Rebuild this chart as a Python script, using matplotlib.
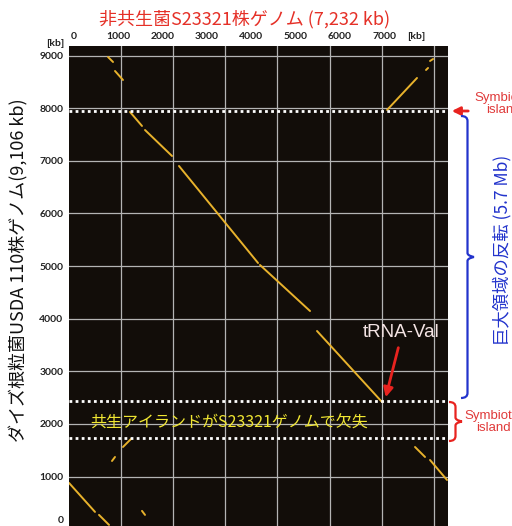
import matplotlib
matplotlib.use('Agg')
import matplotlib.pyplot as plt
from matplotlib.path import Path
from matplotlib.patches import PathPatch

# ---------------- data (kb) ----------------
top_tick_values = [0, 1000, 2000, 3000, 4000, 5000, 6000, 7000]
top_tick_labels = ['0', '1000', '2000', '3000', '4000', '5000', '6000', '7000']
grid_x = [1000, 2000, 3000, 4000, 5000, 6000, 7000]
grid_y = [1000, 2000, 3000, 4000, 5000, 6000, 7000, 8000, 9000]
y_tick_labels = ['1000', '2000', '3000', '4000', '5000', '6000', '7000', '8000', '9000']

# aligned segments (S23321 position x, USDA110 position y), kb
seg_x0 = [749, 883, 1171, 1459, 2111, 3666, 4760, 6104, 6852, 6929, 0, 576, 1036, 825, 1401, 6641, 6929]
seg_x1 = [845, 1036, 1401, 1977, 3628, 4626, 6008, 6679, 6891, 6987, 499, 768, 1190, 883, 1459, 6833, 7255]
seg_y0 = [8975, 8709, 7930, 7587, 6903, 5021, 3766, 7968, 8728, 8899, 878, 270, 1561, 1295, 346, 1561, 1314]
seg_y1 = [8880, 8538, 7664, 7093, 5059, 4146, 2416, 8576, 8766, 8937, 327, 80, 1713, 1371, 270, 1371, 934]

island_boundaries = [7950, 2430, 1740]

# ---------------- figure ----------------
W, H = 512, 526
fig = plt.figure(figsize=(W / 100, H / 100), dpi=100)
L, R, T, B = 69, 448, 46, 526
ax = fig.add_axes([L / W, 0, (R - L) / W, (B - T) / H])
ax.set_facecolor('#120d09')
ax.set_xlim(0, 7274)
ax.set_ylim(59, 9184)
for s in ax.spines.values():
    s.set_visible(False)

for v in grid_x:
    ax.axvline(v, color='#b4b4b4', lw=0.9, zorder=1)
for v in grid_y:
    ax.axhline(v, color='#b4b4b4', lw=0.9, zorder=1)

for x0, x1, y0, y1 in zip(seg_x0, seg_x1, seg_y0, seg_y1):
    ax.plot([x0, x1], [y0, y1], color='#e8b22c', lw=1.4, solid_capstyle='round', zorder=3)

for b in island_boundaries:
    ax.axhline(b, color='white', lw=2.0, ls=(0, (1, 1.2)), zorder=4)

ax.set_xticks([])
ax.set_yticks(grid_y)
ax.set_yticklabels(y_tick_labels, fontfamily='Lato', fontweight='bold', fontsize=7.5, color='#222222')
ax.tick_params(axis='y', length=0, pad=4)
ax.text(-0.015, 173, '0', transform=ax.get_yaxis_transform(), ha='right', va='center',
        fontfamily='Lato', fontweight='bold', fontsize=7.5, color='#222222')

# top axis labels (separate scale as in source image)
ax2 = ax.twiny()
ax2.set_xlim(-113, 8442)
ax2.set_xticks(top_tick_values + [7720])
ax2.set_xticklabels(top_tick_labels + ['[kb]'], fontfamily='Lato', fontweight='bold',
                    fontsize=7.5, color='#222222')
ax2.tick_params(axis='x', length=0, pad=3.5)
for s in ax2.spines.values():
    s.set_visible(False)

fig.text(55 / W, 1 - 43 / H, '[kb]', ha='center', va='center', fontfamily='Lato',
         fontweight='bold', fontsize=7.5, color='#222222')

# in-plot annotations
ax.text(3071, 2017, '共生アイランドがS23321ゲノムで欠失', ha='center', va='center',
        fontfamily='Noto Sans CJK JP', fontsize=11.5, color='#f0e632', zorder=5)
ax.text(6370, 3747, 'tRNA-Val', ha='center', va='center', fontfamily='Liberation Sans',
        fontsize=13.5, color='#f4e4e4', zorder=5)
ax.annotate('', xy=(6065, 2455), xytext=(6334, 3500),
            arrowprops=dict(arrowstyle='-|>', color='#e8231f', lw=2, mutation_scale=14), zorder=5)

# titles
fig.text(245 / W, 1 - 19 / H, '非共生菌S23321株ゲノム (7,232 kb)', ha='center', va='center',
         fontfamily='Noto Sans CJK JP', fontsize=13, color='#e53027')
fig.text(19 / W, 1 - 270 / H, 'ダイズ根粒菌USDA 110株ゲノム(9,106 kb)', ha='center', va='center',
         rotation=90, fontfamily='Noto Sans CJK JP', fontsize=13, color='#111111')
fig.text(502 / W, 1 - 250 / H, '巨大領域の反転 (5.7 Mb)', ha='center', va='center', rotation=90,
         fontfamily='Noto Sans CJK JP', fontsize=12.5, color='#2233cc')

# right-side markers (figure pixels, origin top-left)
def fp(x, y):
    return (x / W, 1 - y / H)

def brace(x0, xt, ytop, ybot, color):
    ym = (ytop + ybot) / 2
    xm = (x0 + xt) / 2
    pts = [fp(x0, ytop), fp(xm, ytop), fp(xm, ytop + 5),
           fp(xm, ym - 4),
           fp(xm, ym - 1), fp(xt, ym), fp(xt, ym),
           fp(xt, ym), fp(xm, ym + 1), fp(xm, ym + 4),
           fp(xm, ybot - 5),
           fp(xm, ybot), fp(x0, ybot)]
    codes = [Path.MOVETO, Path.CURVE3, Path.CURVE3,
             Path.LINETO,
             Path.CURVE4, Path.CURVE4, Path.CURVE4,
             Path.CURVE4, Path.CURVE4, Path.CURVE4,
             Path.LINETO,
             Path.CURVE3, Path.CURVE3]
    p = PathPatch(Path(pts, codes), transform=fig.transFigure, fill=False,
                  edgecolor=color, lw=1.6)
    fig.add_artist(p)

brace(461, 474, 116, 398, '#2233cc')
brace(449, 462, 402, 441, '#e8231f')

fig.text(503 / W, 1 - 104 / H, 'Symbiotic\nisland', ha='center', va='center',
         fontfamily='Liberation Sans', fontsize=9.5, color='#e03a3a', linespacing=1.0)
fig.text(493 / W, 1 - 422 / H, 'Symbiotic\nisland', ha='center', va='center',
         fontfamily='Liberation Sans', fontsize=9.5, color='#e03a3a', linespacing=1.05)
ax.annotate('', xy=fp(449, 111), xytext=fp(471, 111), xycoords='figure fraction',
            textcoords='figure fraction',
            arrowprops=dict(arrowstyle='-|>', color='#e8231f', lw=2, mutation_scale=12),
            annotation_clip=False)

fig.savefig('out.png', dpi=100)
